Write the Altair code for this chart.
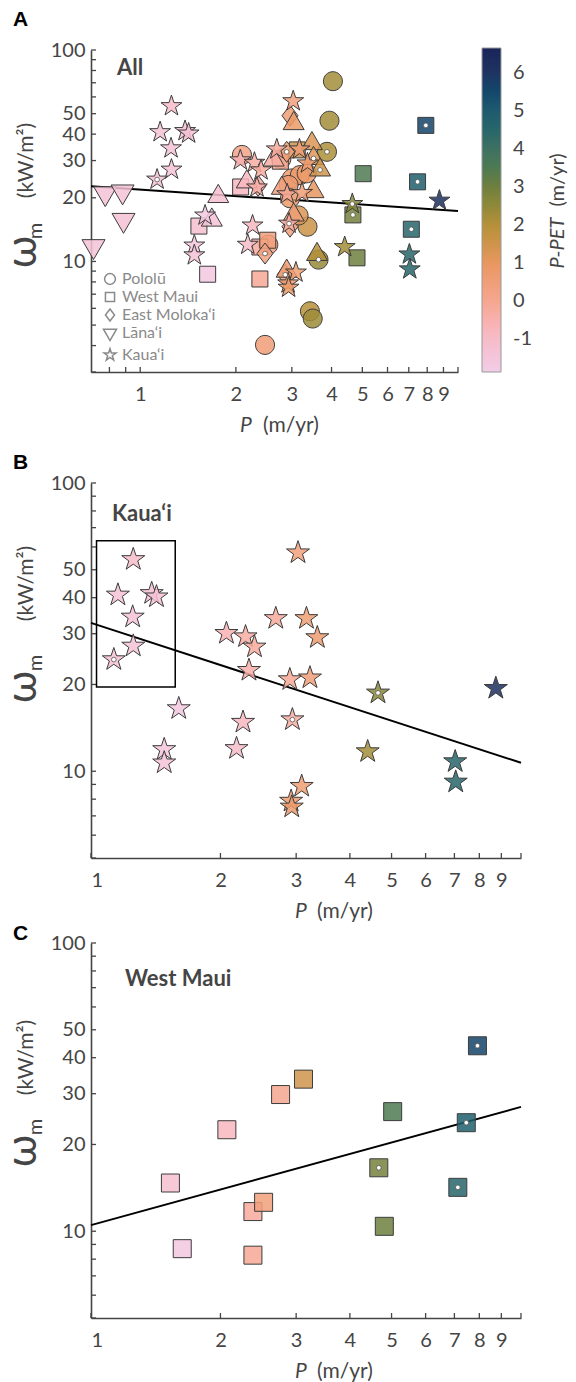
import altair as alt
import pandas as pd

FONT = "Lato"
GRAY = "#454545"

# ---------------- data ----------------
# Pololū (circles)
polo_P = [4.04, 3.94, 3.87, 3.36, 3.15, 3.64, 3.42, 3.49, 2.47, 3.00, 3.18, 3.34, 2.93, 2.96, 2.09, 2.53, 2.78]
polo_w = [71.2, 46.3, 33.0, 14.6, 16.5, 10.2, 5.81, 5.37, 4.03, 24.7, 25.6, 26.1, 23.0, 19.9, 31.9, 12.0, 30.5]
polo_c = [2.2, 2.2, 2.1, 1.6, 1.3, 2.4, 2.0, 2.3, 0.5, 0.7, 0.8, 0.8, 0.7, 0.8, 0.2, 0.4, 0.4]
polo_dot = [0, 0, 1, 0, 0, 1, 0, 0, 0, 0, 0, 0, 0, 0, 0, 0, 0]

# West Maui (squares)
wm_P = [1.53, 1.63, 2.07, 2.38, 2.52, 2.38, 2.76, 3.12, 5.03, 4.67, 4.81, 7.13, 7.46, 7.92]
wm_w = [14.7, 8.7, 22.5, 11.7, 12.6, 8.26, 29.8, 33.7, 26.0, 16.6, 10.4, 14.2, 23.8, 44.0]
wm_c = [-1.2, -1.6, -0.8, -0.2, 0.4, -0.1, 0.0, 1.5, 3.5, 2.9, 3.0, 4.5, 4.8, 5.6]
wm_dot = [0, 0, 0, 0, 0, 0, 0, 0, 0, 1, 0, 1, 1, 1]

# East Moloka‘i (diamonds)
em_P = [2.96, 2.89, 2.35, 2.47, 2.96, 2.86]
em_w = [48.9, 33.0, 22.8, 10.9, 14.6, 8.65]
em_c = [0.6, 0.6, -0.2, 0.3, 0.4, 0.6]
em_dot = [0, 1, 0, 1, 0, 1]

# Lāna‘i (down triangles)
la_P = [0.776, 0.88, 0.886, 0.713]
la_w = [21.0, 21.4, 15.7, 11.8]
la_c = [-1.4, -1.4, -1.3, -1.4]
la_dot = [0, 0, 0, 0]

# other sites (up triangles, not in legend)
ot_P = [1.76, 1.68, 2.165, 2.63, 3.04, 3.47, 3.51, 3.68, 3.51, 2.79, 3.60, 2.89, 3.04]
ot_w = [20.3, 15.7, 23.8, 30.2, 44.9, 36.1, 30.7, 27.1, 21.4, 22.2, 10.8, 9.0, 16.6]
ot_c = [-1.2, -1.4, -0.8, -0.3, 0.8, 1.3, 1.2, 1.5, 1.0, 0.4, 2.0, 0.6, 0.6]
ot_dot = [0, 0, 0, 0, 0, 0, 1, 1, 0, 0, 0, 0, 0]

# Kaua‘i (stars)
ka_P = [1.254, 1.155, 1.384, 1.42, 1.25, 1.254, 1.13, 1.60, 1.48, 1.48, 2.065, 2.288, 2.40, 2.33,
        2.69, 3.03, 3.17, 3.36, 2.90, 3.23, 4.65, 8.74, 2.94, 2.257, 2.18, 4.40, 7.03, 7.05, 3.09, 2.92, 2.93]
ka_w = [54.3, 40.9, 41.4, 40.3, 34.3, 27.2, 24.4, 16.5, 11.9, 10.7, 30.1, 29.3, 27.0, 22.4,
        33.9, 57.3, 33.9, 29.1, 20.8, 21.1, 18.7, 19.4, 15.1, 14.8, 12.0, 11.7, 10.8, 9.18, 8.87, 7.88, 7.52]
ka_c = [-1.0, -1.4, -1.3, -1.3, -1.4, -1.4, -1.3, -1.6, -1.5, -1.4, -0.6, -0.3, -0.2, -0.4,
        -0.2, 0.4, 0.6, 0.7, -0.1, 0.5, 2.6, 6.2, -0.3, -0.8, -1.0, 2.2, 4.5, 4.5, 0.6, 0.7, 0.8]
ka_dot = [0, 0, 0, 0, 0, 0, 1, 0, 0, 0, 0, 0, 0, 0, 0, 0, 0, 0, 0, 0, 1, 0, 1, 0, 0, 0, 0, 0, 0, 0, 0]

sites = ["Pololū", "West Maui", "East Moloka‘i", "Lāna‘i", "Kaua‘i", "Other"]
CIRCLE = "M0.95,0A0.95,0.95 0 1,1 -0.95,0A0.95,0.95 0 1,1 0.95,0Z"
SQUARE = "M-0.8,-0.8H0.8V0.8H-0.8Z"
DIAMOND = "M0,-1.05L-0.8,0L0,1.05L0.8,0Z"
TRI_DOWN = "M-1.15,-0.66L1.15,-0.66L0,1.33Z"
STAR = ("M0,-1.1L0.25,-0.345L1.046,-0.34L0.406,0.132L0.647,0.89L0,0.427L-0.647,0.89"
        "L-0.406,0.132L-1.046,-0.34L-0.25,-0.345Z")
TRI_UP = "M0,-1.21L1.05,0.61L-1.05,0.61Z"
site_shapes = [CIRCLE, SQUARE, DIAMOND, TRI_DOWN, STAR, TRI_UP]

# regression lines (end points)
fitA_P = [0.7, 10.0]
fitA_w = [22.7, 17.3]
fitB_P = [1.0, 10.0]
fitB_w = [32.7, 10.7]
fitC_P = [1.0, 10.0]
fitC_w = [10.5, 27.0]

# highlighted box in panel B
box_P = [1.03, 1.57]
box_w = [19.6, 63.0]

# colour bar
ppet_stops = [-1.87, -1, 0, 1, 2, 3, 4, 5, 6, 6.65]
ppet_colors = ["#f1cde6", "#f6bcc8", "#f5a78f", "#e8975f", "#b5903a", "#6f7f3e",
               "#3e7163", "#1f5a6e", "#1e3462", "#1a2459"]
ppet_labels = [-1, 0, 1, 2, 3, 4, 5, 6]

# axis ticks
x_labels = [1, 2, 3, 4, 5, 6, 7, 8, 9]
xA_ticks = [0.8, 0.9, 1, 2, 3, 4, 5, 6, 7, 8, 9, 10]
xBC_ticks = [1, 2, 3, 4, 5, 6, 7, 8, 9, 10]
y_labels = [10, 20, 30, 40, 50, 100]
yA_ticks = [3, 4, 5, 6, 7, 8, 9, 10, 20, 30, 40, 50, 60, 70, 80, 90, 100]
yBC_ticks = [5, 6, 7, 8, 9, 10, 20, 30, 40, 50, 60, 70, 80, 90, 100]


def frame(P, w, c, dot, site):
    return pd.DataFrame({"P": P, "w": w, "ppet": c, "dot": dot, "site": site})


df_all = pd.concat([
    frame(polo_P, polo_w, polo_c, polo_dot, sites[0]),
    frame(wm_P, wm_w, wm_c, wm_dot, sites[1]),
    frame(em_P, em_w, em_c, em_dot, sites[2]),
    frame(la_P, la_w, la_c, la_dot, sites[3]),
    frame(ot_P, ot_w, ot_c, ot_dot, sites[5]),
    frame(ka_P, ka_w, ka_c, ka_dot, sites[4]),
], ignore_index=True)
df_ka = frame(ka_P, ka_w, ka_c, ka_dot, sites[4])
df_wm = frame(wm_P, wm_w, wm_c, wm_dot, sites[1])


def text_layer(txt, x, y, size, weight="normal", color=GRAY, angle=0, align="left",
               baseline="middle", font=FONT, style="normal"):
    return alt.Chart(pd.DataFrame({"t": [txt]})).mark_text(
        font=font, fontSize=size, fontWeight=weight, color=color, angle=angle, align=align,
        baseline=baseline, fontStyle=style).encode(text="t:N", x=alt.value(x), y=alt.value(y))


def panel(df, fitP, fitw, xdom, ydom, xticks, yticks, W, H, top, label, letter, letter_y,
          ytitle_y, omega_y, m_y, xtitle_x, show_legends, msize, box=False):
    HT = H + top
    xs = alt.Scale(type="log", domain=xdom, nice=False)
    if top > 0:
        ys = alt.Scale(type="log", domain=ydom, nice=False, range=[HT, top])
    else:
        ys = alt.Scale(type="log", domain=ydom, nice=False)
    cscale = alt.Scale(domain=ppet_stops, range=ppet_colors)
    sscale = alt.Scale(domain=sites, range=site_shapes)

    def X(f):
        return alt.X(f, type="quantitative", scale=xs,
                     axis=alt.Axis(values=x_labels, format="d", title=None, ticks=False,
                                   labelPadding=12))

    def Y(f):
        return alt.Y(f, type="quantitative", scale=ys,
                     axis=alt.Axis(values=y_labels, format="d", title="(kW/m²)", ticks=False,
                                   labelPadding=6, titleX=-65, titleY=top + ytitle_y, titleAngle=270,
                                   titleAlign="center", titleBaseline="middle"))

    fit_df = pd.DataFrame({"P": fitP, "w": fitw})
    fit = alt.Chart(fit_df).mark_line(color="black", strokeWidth=2).encode(x=X("P"), y=Y("w"))

    if show_legends:
        shape_enc = alt.Shape("site:N", scale=sscale,
                              legend=alt.Legend(orient="none", legendX=11, legendY=221, values=sites[:5],
                                                title=None, labelFontSize=16, labelColor="#8a8a8a",
                                                labelFont=FONT, symbolSize=130, symbolStrokeWidth=1.5,
                                                symbolStrokeColor="#8a8a8a", symbolFillColor="white",
                                                rowPadding=1, labelOffset=4))
        color_enc = alt.Color("ppet:Q", scale=cscale,
                              legend=alt.Legend(orient="none", legendX=W + 24, legendY=-2,
                                                direction="vertical", gradientLength=H + 2,
                                                gradientThickness=19, values=ppet_labels,
                                                labelExpr="'' + datum.value", title=None,
                                                labelFontSize=20, labelFont=FONT, labelColor=GRAY,
                                                gradientStrokeColor="#999", gradientStrokeWidth=1,
                                                labelOffset=12))
    else:
        shape_enc = alt.Shape("site:N", scale=sscale, legend=None)
        color_enc = alt.Color("ppet:Q", scale=cscale, legend=None)

    pts = alt.Chart(df).mark_point(filled=True, stroke="#3c3c3c", strokeWidth=1, fillOpacity=0.85,
                                   opacity=1, size=msize).encode(
        x=X("P"), y=Y("w"), shape=shape_enc, color=color_enc)
    dots = alt.Chart(df).transform_filter("datum.dot == 1").mark_circle(
        size=22, color="white", stroke="#555", strokeWidth=0.8, opacity=1).encode(x=X("P"), y=Y("w"))

    ytick_df = pd.DataFrame({"v": yticks})
    xtick_df = pd.DataFrame({"v": xticks})
    yt = alt.Chart(ytick_df).mark_rule(color=GRAY, strokeWidth=1.3).encode(
        y=Y("v"), x=alt.value(0), x2=alt.value(5))
    xt = alt.Chart(xtick_df).mark_rule(color=GRAY, strokeWidth=1.3).encode(
        x=X("v"), y=alt.value(HT), y2=alt.value(HT - 5))

    layers = [yt, xt, fit]
    if box:
        bdf = pd.DataFrame({"P1": [box_P[0]], "P2": [box_P[1]], "w1": [box_w[0]], "w2": [box_w[1]]})
        rect = alt.Chart(bdf).mark_rect(fill="white", fillOpacity=0, stroke="black", strokeWidth=1.5).encode(
            x=X("P1"), x2="P2", y=Y("w1"), y2="w2")
        layers.append(rect)
    layers += [pts, dots]
    layers.append(text_layer(label[0], label[1], top + label[2], 22, weight="bold"))
    layers.append(text_layer(letter, -78, letter_y, 21, weight="bold", color="black",
                             font="Liberation Sans"))
    layers.append(text_layer("ω", -68, top + omega_y, 42, weight="normal", angle=270, align="center",
                             baseline="middle"))
    layers.append(text_layer("m", -49, top + m_y, 20, angle=270, align="center",
                             baseline="alphabetic"))
    # x-axis title: italic P followed by (m/yr)
    layers.append(text_layer("P", xtitle_x[0], HT + 54, 21, align="center", style="italic"))
    layers.append(text_layer("(m/yr)", xtitle_x[1], HT + 54, 21, align="center"))
    if show_legends:
        layers.append(text_layer("P-PET", W + 100, 193, 20, angle=270, align="center",
                                 style="italic"))
        layers.append(text_layer("(m/yr)", W + 100, 130, 20, angle=270, align="center"))
    return alt.layer(*layers).properties(width=W, height=HT)


chartA = panel(df_all, fitA_P, fitA_w, [0.7, 10], [3, 100], xA_ticks, yA_ticks, 367, 322, 0,
               ("All", 26, 18), "A", -30.5, 110, 202, 181, (155, 200), True, 400)
chartB = panel(df_ka, fitB_P, fitB_w, [1, 10], [5, 100], xBC_ticks, yBC_ticks, 430, 375, 26,
               ("Kaua‘i", 21, 31), "B", 5.5, 100, 204, 180, (210, 254), False, 484, box=True)
chartC = panel(df_wm, fitC_P, fitC_w, [1, 10], [5, 100], xBC_ticks, yBC_ticks, 430, 375, 0,
               ("West Maui", 34, 36), "C", -9.5, 114, 208, 184, (210, 254), False, 506)

chart = alt.vconcat(chartA, chartB, chartC, spacing=85, bounds="flush").resolve_scale(
    color="independent", shape="independent", x="independent", y="independent"
).resolve_legend(color="independent", shape="independent").properties(
    padding={"left": 2, "top": 8, "right": 0, "bottom": 0}
).configure_view(stroke=None).configure_axis(
    domainColor=GRAY, domainWidth=1.6, labelColor=GRAY, labelFont=FONT, labelFontSize=20,
    titleColor=GRAY, titleFont=FONT, titleFontSize=21, titleFontWeight="normal", grid=False
)

chart.save("out.html", embed_options={"renderer": "svg", "actions": False})
